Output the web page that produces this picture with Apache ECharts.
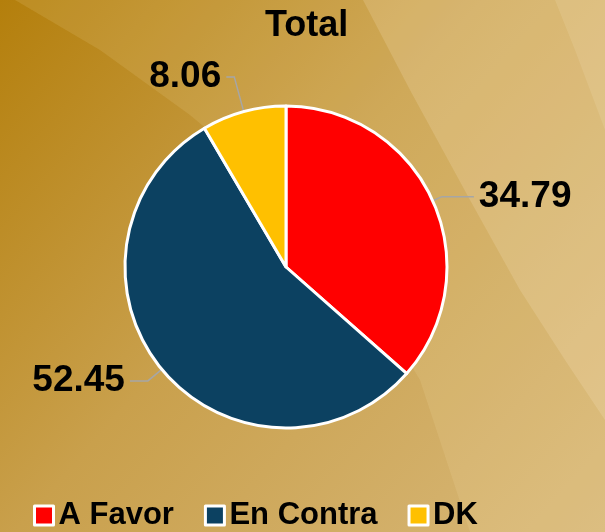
<!DOCTYPE html>
<html>
<head>
<meta charset="utf-8">
<script src="https://cdn.jsdelivr.net/npm/echarts@6/dist/echarts.min.js"></script>
<style>
html, body { margin: 0; padding: 0; }
#main { width: 605px; height: 532px; }
</style>
</head>
<body>
<div id="main"></div>
<script>
// datos del grafico
var categories = ['A Favor', 'En Contra', 'DK'];
var values = [34.79, 52.45, 8.06];
var colors = ['#ff0000', '#0c4161', '#ffc000'];
var lineLen = [[10, 32], [18, 18], [36, 8]];

var chart = echarts.init(document.getElementById('main'));

var pieData = [];
for (var i = 0; i < categories.length; i++) {
  pieData.push({
    name: categories[i],
    value: values[i],
    itemStyle: { color: colors[i] },
    labelLine: { length: lineLen[i][0], length2: lineLen[i][1] }
  });
}

chart.setOption({
  // fondo dorado con bandas curvas
  graphic: [
    {
      type: 'rect', z: -20,
      shape: { x: 0, y: 0, width: 605, height: 532 },
      style: {
        fill: new echarts.graphic.LinearGradient(0, 0, 1, 1, [
          { offset: 0, color: '#b47f0c' },
          { offset: 0.45, color: '#c9a04c' },
          { offset: 1, color: '#d8b879' }
        ])
      }
    },
    {
      type: 'polygon', z: -19,
      shape: { points: [[15, 0], [100, 50], [190, 115], [280, 190], [360, 280], [420, 380], [470, 532], [605, 532], [605, 0]] },
      style: { fill: 'rgba(255,235,190,0.12)' }
    },
    {
      type: 'polygon', z: -18,
      shape: { points: [[363, 0], [410, 90], [470, 200], [520, 290], [565, 360], [605, 420], [605, 0]] },
      style: { fill: 'rgba(255,240,210,0.18)' }
    },
    {
      type: 'polygon', z: -17,
      shape: { points: [[555, 0], [575, 50], [605, 130], [605, 0]] },
      style: { fill: 'rgba(255,245,220,0.12)' }
    }
  ],
  title: {
    text: 'Total',
    left: 260,
    top: 3,
    textStyle: { fontFamily: 'Liberation Sans', fontWeight: 'bold', fontSize: 36, color: '#000' }
  },
  legend: {
    data: categories,
    bottom: -4,
    left: 28,
    icon: 'rect',
    itemWidth: 19,
    itemHeight: 19,
    itemGap: 30,
    itemStyle: { borderColor: '#fff', borderWidth: 3 },
    textStyle: { fontFamily: 'Liberation Sans', fontWeight: 'bold', fontSize: 31, color: '#000' }
  },
  series: [
    {
      type: 'pie',
      center: [286, 267],
      radius: 161,
      startAngle: 90,
      clockwise: true,
      data: pieData,
      itemStyle: { borderColor: '#fff', borderWidth: 3 },
      label: {
        formatter: '{c}',
        fontFamily: 'Liberation Sans',
        fontWeight: 'bold',
        fontSize: 37,
        color: '#000'
      },
      labelLine: { lineStyle: { color: '#a6a6a6', width: 1.5 } },
      emphasis: { scale: false }
    }
  ]
});
</script>
</body>
</html>
